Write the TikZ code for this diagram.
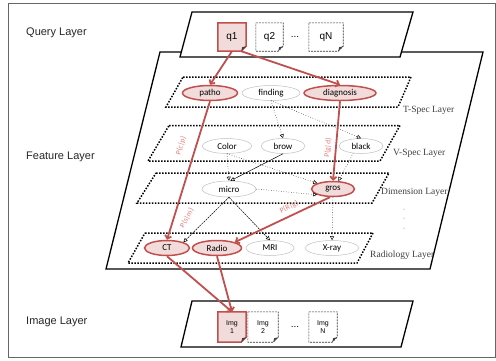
\documentclass[tikz,border=0pt]{standalone}
\usepackage{fontspec}
\setmainfont{Liberation Serif}
\newfontfamily\arialf{Liberation Sans}
\newfontfamily\calif{Carlito}
\usetikzlibrary{arrows.meta,shapes.geometric}
\pgfdeclarelayer{bg}
\pgfdeclarelayer{docs}
\pgfsetlayers{bg,docs,main}
\definecolor{redline}{HTML}{C0504D}
\definecolor{pinkfill}{HTML}{F2DCDB}
\definecolor{greyline}{HTML}{BFBFBF}
\definecolor{plabel}{HTML}{E07B79}
\definecolor{laytext}{HTML}{404040}
\newcommand\docoutline[2]{%
  \draw[#2] (#1.north west) -- (#1.north east) -- ([yshift=5pt]#1.south east)
     -- ([xshift=-5pt]#1.south east) -- (#1.south west) -- cycle;
  \fill[black!75] ([yshift=5pt]#1.south east) -- ([xshift=-5pt]#1.south east)
     -- ([xshift=-4pt,yshift=4pt]#1.south east) -- cycle;}
\begin{document}
\begin{tikzpicture}[x=1pt,y=-1pt,
  ell/.style={ellipse, inner sep=0pt, minimum height=15pt, font=\calif\fontsize{9}{10}\selectfont},
  rednode/.style={ell, draw=redline, fill=pinkfill, line width=1.5pt},
  greynode/.style={ell, draw=greyline, fill=white, line width=0.5pt},
  doc/.style={inner sep=0pt, minimum width=28pt, minimum height=28pt, font=\arialf\fontsize{10}{12}\selectfont},
  imgdoc/.style={inner sep=0pt, minimum height=30pt, align=center, font=\arialf\fontsize{7}{8}\selectfont},
  layerline/.style={line width=1.3pt, line join=miter},
  dotlayer/.style={line width=1.5pt, dash pattern=on 1.5pt off 1.5pt},
  laylab/.style={anchor=west, inner sep=0pt, text=laytext, font=\fontsize{9.5}{11}\selectfont},
  sidelab/.style={anchor=west, inner sep=0pt, text=black!85, font=\arialf\fontsize{11}{13}\selectfont},
  redarr/.style={draw=redline, line width=1.8pt, -{Straight Barb[length=3pt,width=6.5pt]}},
  dotarr/.style={line width=0.5pt, dotted, -{Triangle[open,length=4pt,width=4pt]}},
  dasharr/.style={line width=0.5pt, dash pattern=on 2pt off 0.8pt, -{Triangle[open,length=4pt,width=4pt]}},
  plab/.style={text=plabel, inner sep=0pt, font=\calif\fontsize{7.5}{8}\selectfont},
]
\useasboundingbox (0,0) rectangle (496,360);

% ---------- layer shapes ----------
\begin{pgfonlayer}{bg}
  \draw[black!60, line width=1pt] (8,3) rectangle (495,357);
  \draw[layerline] (160,52) -- (483,52) -- (430,269) -- (106,269) -- cycle;
  \draw[layerline, fill=white] (192,12) -- (413,12) -- (400,57) -- (180,57) -- cycle;
  \draw[layerline] (192,301) -- (413,301) -- (401,347) -- (181,347) -- cycle;
  \draw[dotlayer] (183,77) -- (411,77) -- (398,107) -- (166,107) -- cycle;
  \draw[dotlayer] (169,125.5) -- (400,125.5) -- (380,161) -- (148,161) -- cycle;
  \draw[dotlayer] (156,173) -- (389,173) -- (372,203) -- (137,203) -- cycle;
  \draw[dotlayer] (145,233) -- (373,233) -- (357,263) -- (128,263) -- cycle;
  \foreach \yy in {209,218,228} \fill[black!60] (404,\yy) circle (0.5pt);
\end{pgfonlayer}

% ---------- side labels ----------
\node[sidelab] (lq) at (26,33) {Query Layer};
\node[sidelab] (lf) at (26,157) {Feature Layer};
\node[sidelab] (li) at (26,322) {Image Layer};

\node[laylab] (lt) at (403,110) {T-Spec Layer};
\node[laylab] (lv) at (393,153) {V-Spec Layer};
\node[laylab] (ld) at (381,192) {Dimension Layer};
\node[laylab] (lr) at (370,255) {Radiology Layer};

% ---------- query layer ----------
\node[doc] (q1) at (232,37) {q1};
\node[doc, minimum width=27pt] (q2) at (269.5,37) {q2};
\node[doc] (qdots) at (295,37) {...};
\node[doc, minimum width=34pt] (qN) at (326,37) {qN};
\begin{pgfonlayer}{docs}
  \docoutline{q1}{draw=redline, fill=pinkfill, line width=1.5pt}
  \docoutline{q2}{draw=black!80, line width=0.6pt, dash pattern=on 2pt off 1pt}
  \docoutline{qN}{draw=black!80, line width=0.6pt, dash pattern=on 2pt off 1pt}
\end{pgfonlayer}

% ---------- image layer ----------
\node[imgdoc, minimum width=28pt] (img1) at (232,327) {Img\\1};
\node[imgdoc, minimum width=30pt] (img2) at (263,327) {Img\\2};
\node[inner sep=0pt, font=\arialf\fontsize{10}{12}\selectfont] (idots) at (295,327) {...};
\node[imgdoc, minimum width=28pt] (imgN) at (323,327) {Img\\N};
\begin{pgfonlayer}{docs}
  \docoutline{img1}{draw=redline, fill=pinkfill, line width=1.5pt}
  \docoutline{img2}{draw=black!80, line width=0.6pt, dash pattern=on 2pt off 1pt}
  \docoutline{imgN}{draw=black!80, line width=0.6pt, dash pattern=on 2pt off 1pt}
\end{pgfonlayer}

% ---------- feature nodes ----------
\node[rednode, minimum width=55pt] (patho) at (210,93) {patho};
\node[greynode, minimum width=58pt] (finding) at (271,93) {finding};
\node[rednode, minimum width=72pt] (diagnosis) at (340,93) {diagnosis};

\node[greynode, minimum width=49pt] (Color) at (227,146) {Color};
\node[greynode, minimum width=44pt] (brow) at (283,146) {brow};
\node[greynode, minimum width=44pt] (black) at (361,146) {black};

\node[greynode, minimum width=54pt, minimum height=16pt] (micro) at (229,189) {micro};
\node[rednode, minimum width=43pt] (gros) at (333,189) {gros};

\node[rednode, minimum width=45pt] (CT) at (167,248) {CT};
\node[rednode, minimum width=49pt] (Radio) at (217,248) {Radio};
\node[greynode, minimum width=48pt] (MRI) at (270,248) {MRI};
\node[greynode, minimum width=53pt] (Xray) at (332,248) {X-ray};

% ---------- black connectors ----------
\draw[dotarr] (finding.south) -- (brow.north);
\draw[dotarr] (finding.south) -- (black.north);
\draw[dotarr] (Color.south) -- (micro.north);
\draw[dotarr] (Color.south) -- (gros.north west);
\draw[line width=0.5pt, -{Triangle[open,length=4pt,width=4pt]}] (brow.south) -- (micro.80);
\draw[dotarr] (black.223) -- (gros.56);
\draw[dotarr] (micro.east) -- (gros.200);
\draw[dasharr] (micro.south) -- (CT.north east);
\draw[dasharr] (micro.south) -- (MRI.north);
\draw[dotarr] (gros.south) -- (Xray.north);

% ---------- red connectors ----------
\draw[redarr] (q1.south) -- (patho.north);
\draw[redarr] ([xshift=-5pt]q1.south east) -- (diagnosis.north);
\draw[redarr] (patho.south) -- (CT.north);
\draw[redarr] (diagnosis.south) -- (gros.north);
\draw[redarr] (gros.250) -- (Radio.north east);
\draw[redarr] (CT.south) -- (img1.north);
\draw[redarr] (Radio.south) -- (img1.north);

% ---------- probability labels ----------
\node[plab, rotate=73] (pcp) at (181,146) {P(c|p)};
\node[plab, rotate=85] (pgd) at (328,148) {P(g|d)};
\node[plab, rotate=62] (psm) at (187,218) {P(s|m)};
\node[plab, rotate=27] (prg) at (289,207) {P(R|g)};
\end{tikzpicture}
\end{document}
